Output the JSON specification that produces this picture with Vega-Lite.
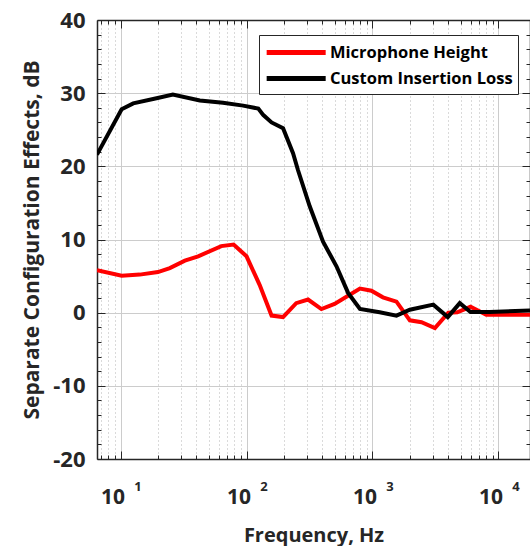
{
  "$schema": "https://vega.github.io/schema/vega-lite/v6.json",
  "autosize": {"type": "none"},
  "padding": {"left": 97, "top": 20, "right": 0, "bottom": 87},
  "width": 433,
  "height": 439,
  "background": "white",
  "config": {
    "view": {"stroke": null},
    "font": "Open Sans",
    "axis": {
      "domainColor": "#262626",
      "domainWidth": 1.5,
      "tickColor": "#262626",
      "tickWidth": 1,
      "labelColor": "#262626",
      "titleColor": "#262626",
      "labelFont": "Open Sans",
      "titleFont": "Open Sans",
      "labelFontWeight": "bold",
      "titleFontWeight": "bold"
    }
  },
  "datasets": {
    "curves": [
      {"f": 6.5, "db": 5.8, "series": "Microphone Height"},
      {"f": 10.2, "db": 5.05, "series": "Microphone Height"},
      {"f": 14.2, "db": 5.2, "series": "Microphone Height"},
      {"f": 19.8, "db": 5.55, "series": "Microphone Height"},
      {"f": 24.6, "db": 6.1, "series": "Microphone Height"},
      {"f": 32.4, "db": 7.1, "series": "Microphone Height"},
      {"f": 41.3, "db": 7.7, "series": "Microphone Height"},
      {"f": 63, "db": 9.1, "series": "Microphone Height"},
      {"f": 79, "db": 9.3, "series": "Microphone Height"},
      {"f": 100, "db": 7.7, "series": "Microphone Height"},
      {"f": 127, "db": 3.8, "series": "Microphone Height"},
      {"f": 158, "db": -0.4, "series": "Microphone Height"},
      {"f": 195, "db": -0.6, "series": "Microphone Height"},
      {"f": 248, "db": 1.3, "series": "Microphone Height"},
      {"f": 308, "db": 1.8, "series": "Microphone Height"},
      {"f": 393, "db": 0.5, "series": "Microphone Height"},
      {"f": 500, "db": 1.2, "series": "Microphone Height"},
      {"f": 640, "db": 2.3, "series": "Microphone Height"},
      {"f": 795, "db": 3.3, "series": "Microphone Height"},
      {"f": 980, "db": 3.0, "series": "Microphone Height"},
      {"f": 1210, "db": 2.1, "series": "Microphone Height"},
      {"f": 1550, "db": 1.5, "series": "Microphone Height"},
      {"f": 1980, "db": -1.05, "series": "Microphone Height"},
      {"f": 2450, "db": -1.3, "series": "Microphone Height"},
      {"f": 3130, "db": -2.1, "series": "Microphone Height"},
      {"f": 4000, "db": 0.0, "series": "Microphone Height"},
      {"f": 4710, "db": 0.05, "series": "Microphone Height"},
      {"f": 6000, "db": 0.8, "series": "Microphone Height"},
      {"f": 8000, "db": -0.3, "series": "Microphone Height"},
      {"f": 17800, "db": -0.3, "series": "Microphone Height"},
      {"f": 6.5, "db": 21.6, "series": "Custom Insertion Loss"},
      {"f": 10.2, "db": 27.8, "series": "Custom Insertion Loss"},
      {"f": 12.6, "db": 28.6, "series": "Custom Insertion Loss"},
      {"f": 19.3, "db": 29.3, "series": "Custom Insertion Loss"},
      {"f": 26, "db": 29.8, "series": "Custom Insertion Loss"},
      {"f": 42.6, "db": 29.0, "series": "Custom Insertion Loss"},
      {"f": 65, "db": 28.7, "series": "Custom Insertion Loss"},
      {"f": 94, "db": 28.3, "series": "Custom Insertion Loss"},
      {"f": 124, "db": 27.9, "series": "Custom Insertion Loss"},
      {"f": 136, "db": 27.0, "series": "Custom Insertion Loss"},
      {"f": 158, "db": 26.0, "series": "Custom Insertion Loss"},
      {"f": 195, "db": 25.2, "series": "Custom Insertion Loss"},
      {"f": 234, "db": 21.8, "series": "Custom Insertion Loss"},
      {"f": 256, "db": 19.5, "series": "Custom Insertion Loss"},
      {"f": 318, "db": 14.5, "series": "Custom Insertion Loss"},
      {"f": 405, "db": 9.7, "series": "Custom Insertion Loss"},
      {"f": 519, "db": 6.3, "series": "Custom Insertion Loss"},
      {"f": 640, "db": 2.7, "series": "Custom Insertion Loss"},
      {"f": 795, "db": 0.5, "series": "Custom Insertion Loss"},
      {"f": 1140, "db": 0.05, "series": "Custom Insertion Loss"},
      {"f": 1550, "db": -0.4, "series": "Custom Insertion Loss"},
      {"f": 1980, "db": 0.4, "series": "Custom Insertion Loss"},
      {"f": 3040, "db": 1.1, "series": "Custom Insertion Loss"},
      {"f": 3960, "db": -0.6, "series": "Custom Insertion Loss"},
      {"f": 4930, "db": 1.3, "series": "Custom Insertion Loss"},
      {"f": 6000, "db": 0.1, "series": "Custom Insertion Loss"},
      {"f": 8500, "db": 0.1, "series": "Custom Insertion Loss"},
      {"f": 17800, "db": 0.3, "series": "Custom Insertion Loss"}
    ]
  },
  "data": {"name": "curves"},
  "resolve": {"axis": {"x": "independent", "y": "independent"}},
  "layer": [
    {
      "transform": [{"filter": "datum.series === 'Microphone Height'"}],
      "mark": {"type": "line", "strokeWidth": 4, "clip": true},
      "encoding": {
        "x": {
          "field": "f", "type": "quantitative",
          "scale": {"type": "log", "domain": [6.5, 17800], "nice": false},
          "axis": {
            "orient": "bottom",
            "title": "Frequency, Hz",
            "titleFontSize": 20,
            "titlePadding": 14,
            "values": [7, 8, 9, 10, 20, 30, 40, 50, 60, 70, 80, 90, 100, 200, 300, 400, 500, 600, 700, 800, 900, 1000, 2000, 3000, 4000, 5000, 6000, 7000, 8000, 9000, 10000],
            "labelExpr": "indexof([10,100,1000,10000], datum.value) >= 0 ? '10' : ''",
            "labelFontSize": 21,
            "labelOffset": -8,
            "labelBaseline": "alphabetic",
            "labelPadding": 52,
            "labelOverlap": false,
            "labelBound": false,
            "labelFlush": false,
            "tickSize": {"condition": {"test": "indexof([10,100,1000,10000], datum.value) >= 0", "value": -8}, "value": -4},
            "grid": true,
            "gridColor": {"condition": {"test": "indexof([10,100,1000,10000], datum.value) >= 0", "value": "#cccccc"}, "value": "#b5b5b5"},
            "gridDash": {"condition": {"test": "indexof([10,100,1000,10000], datum.value) >= 0", "value": []}, "value": [1, 3]},
            "gridWidth": 1
          }
        },
        "y": {
          "field": "db", "type": "quantitative",
          "scale": {"domain": [-20, 40], "nice": false},
          "axis": {
            "orient": "left",
            "title": "Separate Configuration Effects, dB",
            "titleFontSize": 21,
            "titlePadding": 10,
            "values": [-20, -18, -16, -14, -12, -10, -8, -6, -4, -2, 0, 2, 4, 6, 8, 10, 12, 14, 16, 18, 20, 22, 24, 26, 28, 30, 32, 34, 36, 38, 40],
            "labelExpr": "datum.value % 10 === 0 ? datum.value + '' : ''",
            "labelFontSize": 22,
            "labelPadding": 20,
            "labelOverlap": false,
            "labelBound": false,
            "labelFlush": false,
            "tickSize": {"condition": {"test": "datum.value % 10 === 0", "value": -8}, "value": -4},
            "grid": true,
            "gridColor": "#cccccc",
            "gridOpacity": {"condition": {"test": "datum.value % 10 === 0", "value": 1}, "value": 0}
          }
        },
        "color": {
          "field": "series", "type": "nominal",
          "scale": {"domain": ["Microphone Height", "Custom Insertion Loss"], "range": ["#ff0000", "#000000"]},
          "legend": {
            "title": null,
            "orient": "none",
            "legendX": 162,
            "legendY": 15,
            "fillColor": "white",
            "strokeColor": "#262626",
            "padding": 5,
            "rowPadding": 3,
            "symbolType": "M-1,0H5",
            "symbolSize": 387,
            "symbolStrokeWidth": 5,
            "labelOffset": 41,
            "labelFont": "Open Sans",
            "labelFontSize": 16.5,
            "labelFontWeight": "bold",
            "labelColor": "#000000",
            "labelLimit": 400
          }
        }
      }
    },
    {
      "transform": [{"filter": "datum.series === 'Custom Insertion Loss'"}],
      "mark": {"type": "line", "strokeWidth": 4, "clip": true},
      "encoding": {
        "x": {
          "field": "f", "type": "quantitative",
          "scale": {"type": "log", "domain": [6.5, 17800], "nice": false},
          "axis": {
            "orient": "top",
            "title": null,
            "values": [7, 8, 9, 10, 20, 30, 40, 50, 60, 70, 80, 90, 100, 200, 300, 400, 500, 600, 700, 800, 900, 1000, 2000, 3000, 4000, 5000, 6000, 7000, 8000, 9000, 10000],
            "labels": false,
            "grid": false,
            "tickSize": {"condition": {"test": "indexof([10,100,1000,10000], datum.value) >= 0", "value": -8}, "value": -4}
          }
        },
        "y": {
          "field": "db", "type": "quantitative",
          "scale": {"domain": [-20, 40], "nice": false},
          "axis": {
            "orient": "right",
            "title": null,
            "values": [-20, -18, -16, -14, -12, -10, -8, -6, -4, -2, 0, 2, 4, 6, 8, 10, 12, 14, 16, 18, 20, 22, 24, 26, 28, 30, 32, 34, 36, 38, 40],
            "labels": false,
            "grid": false,
            "tickSize": {"condition": {"test": "datum.value % 10 === 0", "value": -8}, "value": -4}
          }
        },
        "color": {
          "field": "series", "type": "nominal",
          "scale": {"domain": ["Microphone Height", "Custom Insertion Loss"], "range": ["#ff0000", "#000000"]}
        }
      }
    },
    {
      "transform": [{"filter": "datum.series === 'Microphone Height'"}],
      "mark": {"type": "line", "opacity": 0, "clip": true},
      "encoding": {
        "x": {
          "field": "f", "type": "quantitative",
          "scale": {"type": "log", "domain": [6.5, 17800], "nice": false},
          "axis": {
            "orient": "bottom",
            "title": null,
            "values": [10, 100, 1000, 10000],
            "labelExpr": "['0','1','2','3','4'][round(log(datum.value)/LN10)]",
            "labelFontSize": 13,
            "labelOffset": 17,
            "labelBaseline": "alphabetic",
            "labelPadding": 31,
            "labelOverlap": false,
            "labelBound": false,
            "labelFlush": false,
            "ticks": false,
            "domain": false,
            "grid": false
          }
        },
        "y": {
          "field": "db", "type": "quantitative",
          "scale": {"domain": [-20, 40], "nice": false},
          "axis": null
        }
      }
    }
  ]
}
